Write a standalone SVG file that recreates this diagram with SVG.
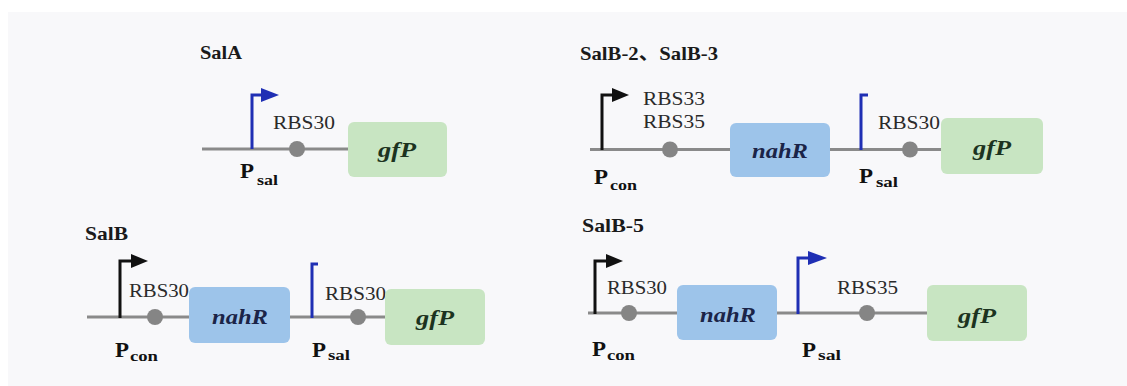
<svg xmlns="http://www.w3.org/2000/svg" width="1127" height="386" viewBox="0 0 1127 386">
  <defs>
    <style>
      .bb { stroke: #8a8a8a; stroke-width: 3; fill: none; }
      .dot { fill: #858585; }
      .pk { stroke: #111111; stroke-width: 3; fill: none; }
      .pb { stroke: #1f2fb4; stroke-width: 3; fill: none; }
      .ak { fill: #111111; }
      .ab { fill: #1f2fb4; }
      .gbox { fill: #c8e5c2; }
      .nbox { fill: #9dc4ea; }
      text { font-family: 'Liberation Serif', 'Noto Sans CJK SC', serif; }
      .title { font-size: 19px; font-weight: bold; fill: #1a1a1a; }
      .rbs { font-size: 19px; fill: #2a2a2a; }
      .gene { font-size: 22px; font-weight: bold; font-style: italic; text-anchor: middle; }
      .gtx { fill: #1c3320; }
      .ntx { fill: #1b2448; }
      .pm { font-size: 21px; font-weight: bold; fill: #111111; }
      .sub { font-size: 15px; font-weight: bold; fill: #111111; }
    </style>
  </defs>
  <rect x="0" y="0" width="1127" height="386" fill="#ffffff"/>
  <rect x="8" y="12" width="1119" height="374" fill="#f8f8fa"/>

  <g id="connectors">
    <line class="bb" x1="202" y1="149" x2="348" y2="149"/>
    <line class="bb" x1="590" y1="149.5" x2="730" y2="149.5"/>
    <line class="bb" x1="830" y1="149.5" x2="942" y2="149.5"/>
    <line class="bb" x1="87" y1="317" x2="190" y2="317"/>
    <line class="bb" x1="289" y1="317" x2="386" y2="317"/>
    <line class="bb" x1="588" y1="313" x2="678" y2="313"/>
    <line class="bb" x1="776" y1="313" x2="928" y2="313"/>
  </g>

  <g id="SalA" font-family="'Liberation Serif', serif">
    <text class="title" x="200" y="59" textLength="42" lengthAdjust="spacingAndGlyphs">SalA</text>
    <path class="pb" d="M252 149 V95 H263"/>
    <polygon class="ab" points="261,88 279,95 261,102"/>
    <text class="rbs" x="273" y="129" textLength="62" lengthAdjust="spacingAndGlyphs">RBS30</text>
    <circle class="dot" cx="297" cy="149" r="8"/>
    <rect class="gbox" x="348" y="122" width="99" height="55" rx="6"/>
    <text class="gene gtx" x="397" y="157" textLength="38" lengthAdjust="spacingAndGlyphs">gfP</text>
    <text class="pm" x="240" y="178" textLength="14" lengthAdjust="spacingAndGlyphs">P</text>
    <text class="sub" x="257" y="185" textLength="21" lengthAdjust="spacingAndGlyphs">sal</text>
  </g>

  <g id="SalB-2-3" font-family="'Liberation Serif', 'Noto Sans CJK SC', serif">
    <text class="title" x="580" y="60" textLength="138" lengthAdjust="spacingAndGlyphs">SalB-2、SalB-3</text>
    <path class="pk" d="M602 150 V95 H614"/>
    <polygon class="ak" points="612,88 629,95 612,102"/>
    <text class="rbs" x="643" y="105" textLength="62" lengthAdjust="spacingAndGlyphs">RBS33</text>
    <text class="rbs" x="643" y="128" textLength="62" lengthAdjust="spacingAndGlyphs">RBS35</text>
    <circle class="dot" cx="670" cy="149.5" r="8"/>
    <rect class="nbox" x="730" y="123" width="100" height="54" rx="6"/>
    <text class="gene ntx" x="780" y="158" textLength="56" lengthAdjust="spacingAndGlyphs">nahR</text>
    <path class="pb" d="M861 150 V95 H868"/>
    <text class="rbs" x="878" y="129" textLength="62" lengthAdjust="spacingAndGlyphs">RBS30</text>
    <circle class="dot" cx="910" cy="149.5" r="8"/>
    <rect class="gbox" x="941" y="118" width="102" height="56" rx="6"/>
    <text class="gene gtx" x="992" y="155" textLength="38" lengthAdjust="spacingAndGlyphs">gfP</text>
    <text class="pm" x="594" y="184" textLength="14" lengthAdjust="spacingAndGlyphs">P</text>
    <text class="sub" x="610" y="190" textLength="27" lengthAdjust="spacingAndGlyphs">con</text>
    <text class="pm" x="859" y="183" textLength="14" lengthAdjust="spacingAndGlyphs">P</text>
    <text class="sub" x="876" y="187" textLength="22" lengthAdjust="spacingAndGlyphs">sal</text>
  </g>

  <g id="SalB" font-family="'Liberation Serif', serif">
    <text class="title" x="85" y="240" textLength="43" lengthAdjust="spacingAndGlyphs">SalB</text>
    <path class="pk" d="M120 318 V261 H133"/>
    <polygon class="ak" points="131,254 148,261 131,268"/>
    <text class="rbs" x="129" y="297" textLength="60" lengthAdjust="spacingAndGlyphs">RBS30</text>
    <circle class="dot" cx="155" cy="317" r="8"/>
    <rect class="nbox" x="189" y="287" width="101" height="56" rx="6"/>
    <text class="gene ntx" x="240" y="324" textLength="56" lengthAdjust="spacingAndGlyphs">nahR</text>
    <path class="pb" d="M312 318 V264 H318"/>
    <text class="rbs" x="325" y="300" textLength="61" lengthAdjust="spacingAndGlyphs">RBS30</text>
    <circle class="dot" cx="358" cy="317" r="8"/>
    <rect class="gbox" x="385" y="289" width="100" height="56" rx="6"/>
    <text class="gene gtx" x="435" y="325" textLength="38" lengthAdjust="spacingAndGlyphs">gfP</text>
    <text class="pm" x="115" y="357" textLength="14" lengthAdjust="spacingAndGlyphs">P</text>
    <text class="sub" x="130" y="361" textLength="28" lengthAdjust="spacingAndGlyphs">con</text>
    <text class="pm" x="312" y="357" textLength="14" lengthAdjust="spacingAndGlyphs">P</text>
    <text class="sub" x="328" y="360" textLength="22" lengthAdjust="spacingAndGlyphs">sal</text>
  </g>

  <g id="SalB-5" font-family="'Liberation Serif', serif">
    <text class="title" x="582" y="232" textLength="62" lengthAdjust="spacingAndGlyphs">SalB-5</text>
    <path class="pk" d="M595 314 V261 H608"/>
    <polygon class="ak" points="606,254 623,261 606,268"/>
    <text class="rbs" x="607" y="294" textLength="60" lengthAdjust="spacingAndGlyphs">RBS30</text>
    <circle class="dot" cx="629" cy="313" r="8"/>
    <rect class="nbox" x="677" y="285" width="100" height="55" rx="6"/>
    <text class="gene ntx" x="728" y="322" textLength="56" lengthAdjust="spacingAndGlyphs">nahR</text>
    <path class="pb" d="M798 314 V258 H810"/>
    <polygon class="ab" points="808,251 827,258 808,265"/>
    <text class="rbs" x="837" y="294" textLength="61" lengthAdjust="spacingAndGlyphs">RBS35</text>
    <circle class="dot" cx="867" cy="313" r="8"/>
    <rect class="gbox" x="927" y="285" width="100" height="56" rx="6"/>
    <text class="gene gtx" x="977" y="323" textLength="38" lengthAdjust="spacingAndGlyphs">gfP</text>
    <text class="pm" x="592" y="356" textLength="14" lengthAdjust="spacingAndGlyphs">P</text>
    <text class="sub" x="607" y="360" textLength="28" lengthAdjust="spacingAndGlyphs">con</text>
    <text class="pm" x="802" y="357" textLength="14" lengthAdjust="spacingAndGlyphs">P</text>
    <text class="sub" x="818" y="360" textLength="23" lengthAdjust="spacingAndGlyphs">sal</text>
  </g>
</svg>
